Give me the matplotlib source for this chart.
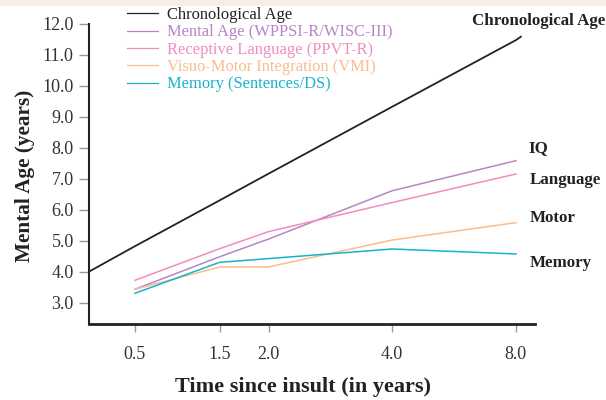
import numpy as np
import matplotlib
matplotlib.use("Agg")
import matplotlib.pyplot as plt
from matplotlib.patches import Rectangle

# data
time_labels = ["0.5", "1.5", "2.0", "4.0", "8.0"]
chronological_age = [4.82, 6.30, 7.16, 9.32, 11.47]
chron_start, chron_end = 4.0, 11.58          # line runs past the first/last time
mental_age = [3.43, 4.48, 5.05, 6.61, 7.58]
receptive_language = [3.72, 4.74, 5.29, 6.23, 7.15]
visuo_motor = [3.43, 4.15, 4.15, 5.02, 5.58]
memory = [3.30, 4.30, 4.42, 4.73, 4.57]

# uneven spacing of the time axis, as drawn in the original
x_pos = [0.0, 0.685, 1.08, 2.08, 3.08]
x_left, x_right = -0.371, 3.234

plt.rcParams['font.family'] = ['Liberation Serif', 'DejaVu Serif']

fig = plt.figure(figsize=(6.06, 4.0), dpi=100)
fig.patches.append(Rectangle((0, 0.987), 1, 0.013, transform=fig.transFigure,
                             color="#f4f1e4", zorder=0))
ax = fig.add_axes([0.1469, 0.19, 0.7359, 0.7508])

ax.plot([x_left] + x_pos + [3.12], [chron_start] + chronological_age + [chron_end],
        color="#222222", lw=1.3, label="Chronological Age")
ax.plot(x_pos, mental_age, color="#b784c8", lw=1.1, label="Mental Age (WPPSI-R/WISC-III)")
ax.plot(x_pos, receptive_language, color="#f28cbd", lw=1.1, label="Receptive Language (PPVT-R)")
ax.plot(x_pos, visuo_motor, color="#f9bd8e", lw=1.1, label="Visuo-Motor Integration (VMI)")
ax.plot(x_pos, memory, color="#17b3cc", lw=1.1, label="Memory (Sentences/DS)")

ax.set_xlim(x_left, x_right)
ax.set_ylim(2.31, 12.0)
ax.set_xticks(x_pos)
ax.set_xticklabels(time_labels)
ax.set_yticks(np.arange(3, 13))
ax.set_yticklabels([f"{v:.1f}" for v in range(3, 13)])

for s in ["top", "right"]:
    ax.spines[s].set_visible(False)
ax.spines["left"].set_linewidth(1.5)
ax.spines["bottom"].set_linewidth(2.0)
ax.spines["left"].set_color("#222222")
ax.spines["bottom"].set_color("#222222")
ax.tick_params(axis="x", direction="out", length=6, width=1, color="#999999",
               pad=10, labelsize=13, labelcolor="#333333")
ax.tick_params(axis="y", direction="out", length=7, width=1, color="#999999",
               pad=4, labelsize=13, labelcolor="#333333")

fig.text(303 / 606, 1 - 387 / 400, "Time since insult (in years)", fontsize=16,
         fontweight="bold", color="#222222", ha="center", va="center")
fig.text(25 / 606, 1 - 176 / 400, "Mental Age (years)", fontsize=15.3,
         fontweight="bold", color="#222222", ha="center", va="center", rotation=90)

leg = ax.legend(loc="upper left", bbox_to_anchor=(127 / 606, 1 - 7 / 400),
                bbox_transform=fig.transFigure, frameon=False, fontsize=11.9,
                labelcolor="linecolor", handlelength=1.85, handletextpad=0.6,
                labelspacing=0.08, borderpad=0, borderaxespad=0)
for line in leg.get_lines():
    line.set_linewidth(0.9)

# labels at the right end of each line
right_labels = [("Chronological Age", 472, 21), ("IQ", 528, 148), ("Language", 530, 180),
                ("Motor", 530, 218), ("Memory", 530, 263)]
for txt, px, py in right_labels:
    fig.text(px / 606, 1 - py / 400, txt, fontsize=12.2, fontweight="bold",
             color="#222222", ha="left", va="center")

fig.savefig("out.png", dpi=100)
